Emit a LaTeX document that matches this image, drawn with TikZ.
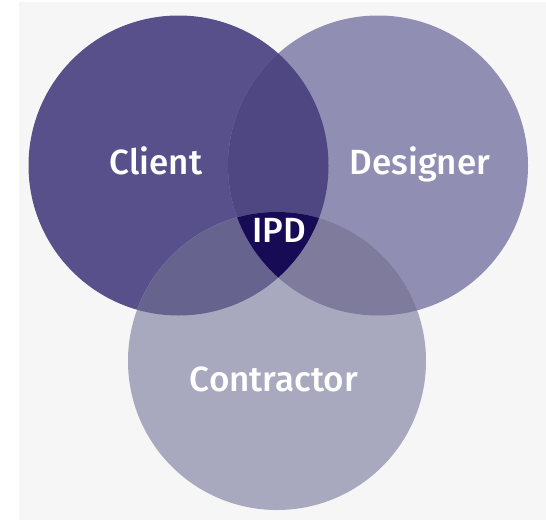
\documentclass[tikz,border=0pt]{standalone}
\usepackage{fontspec}
\setmainfont{Fira Sans}[UprightFont=* Medium]
\definecolor{bgpage}{HTML}{F6F6F6}
\definecolor{clientc}{HTML}{58508A}
\definecolor{designc}{HTML}{918EB4}
\definecolor{contrc}{HTML}{A8A8BE}
\definecolor{cdc}{HTML}{4F4781}
\definecolor{ckc}{HTML}{67638F}
\definecolor{dkc}{HTML}{7E7B9D}
\definecolor{ipdc}{HTML}{170B56}
\tikzset{
  label/.style={text=white, font=\fontsize{35}{38}\selectfont, anchor=base, inner sep=0pt},
}
\begin{document}
\begin{tikzpicture}[x=1pt,y=-1pt]
\useasboundingbox (0,0) rectangle (546,522);
\fill[white] (0,0) rectangle (546,522);
\fill[bgpage] (19,2) rectangle (546,520);
% circle centres
\coordinate (cl) at (178.5,165.5);
\coordinate (de) at (378,165.5);
\coordinate (co) at (277,361);
\def\rad{150}
\fill[clientc] (cl) circle[radius=\rad];
\fill[designc] (de) circle[radius=\rad];
\fill[contrc] (co) circle[radius=149];
% pairwise overlaps
\begin{scope}
  \clip (cl) circle[radius=\rad];
  \fill[cdc] (de) circle[radius=\rad];
  \fill[ckc] (co) circle[radius=149];
\end{scope}
\begin{scope}
  \clip (de) circle[radius=\rad];
  \fill[dkc] (co) circle[radius=149];
\end{scope}
% common region
\begin{scope}
  \clip (cl) circle[radius=\rad];
  \clip (de) circle[radius=\rad];
  \fill[ipdc] (co) circle[radius=149];
\end{scope}
\node[label] (client) at (156,174) {Client};
\node[label] (designer) at (420,174) {Designer};
\node[label] (contractor) at (274,391) {Contractor};
\node[label] (ipd) at (279,242) {IPD};
\end{tikzpicture}
\end{document}
